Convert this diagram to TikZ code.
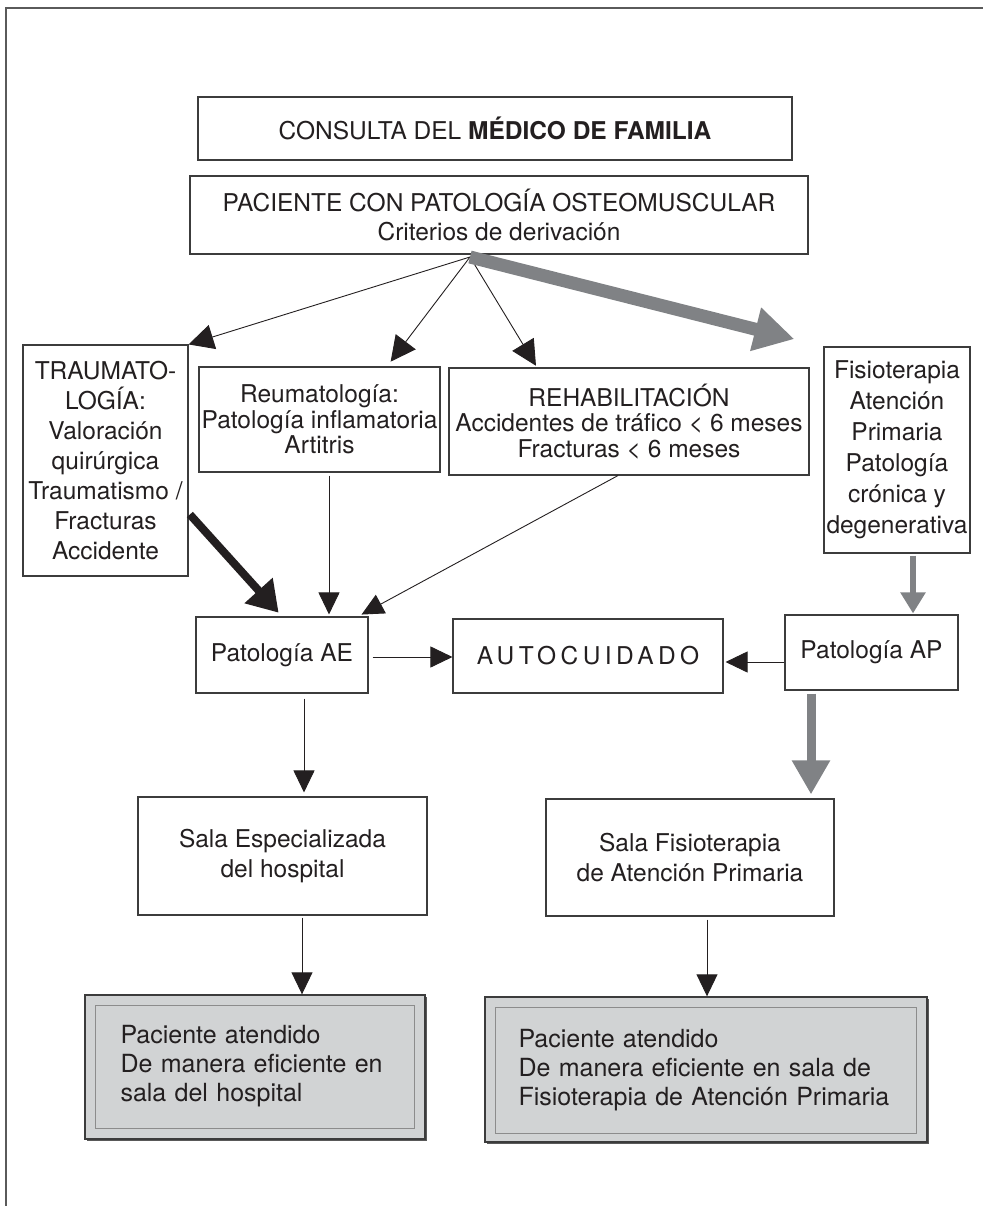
\documentclass[tikz,border=0pt]{standalone}
\usepackage{fontspec}
\setmainfont{TeX Gyre Heros}
\usetikzlibrary{arrows.meta,shadows}

\definecolor{ink}{HTML}{231F20}
\definecolor{edgegray}{HTML}{3C3C3C}
\definecolor{flowgray}{HTML}{808285}
\definecolor{panelgray}{HTML}{D1D3D4}
\definecolor{framegray}{HTML}{5A5A5A}

\tikzset{
  box/.style={rectangle, draw=edgegray, line width=1.1pt, inner sep=0pt, align=center, text=ink,
    font=\fontsize{24.5}{30}\selectfont},
  tightbox/.style={box, font=\fontsize{24.5}{25.5}\selectfont},
  panel/.style={rectangle, fill=panelgray, draw=edgegray, line width=1.4pt, inner sep=0pt,
    drop shadow={shadow xshift=1.5pt, shadow yshift=-1.5pt, fill=black!65, opacity=1}},
  panelframe/.style={rectangle, draw=black!45, line width=0.8pt, inner sep=0pt, align=left, text=ink,
    font=\fontsize{25}{29}\selectfont},
  link/.style={draw=ink, line width=0.9pt, -{Triangle[length=22pt,width=21pt]}},
  biglink/.style={draw=ink, line width=0.9pt, -{Triangle[length=25pt,width=25pt]}},
  boldlink/.style={draw=ink, line width=8pt, -{Triangle[length=30pt,width=36pt]}},
  greylink/.style={draw=flowgray, line width=6pt, -{Triangle[length=21pt,width=24pt]}},
  wideflow/.style={draw=flowgray, line width=9pt, -{Triangle[length=34pt,width=36pt]}},
  mainflow/.style={draw=flowgray, line width=13pt, -{Triangle[length=40pt,width=42pt]}},
}

\begin{document}
\begin{tikzpicture}[x=1pt,y=-1pt]
  \useasboundingbox (0,0) rectangle (983,1206);
  \draw[framegray, line width=1.5pt] (6,1206) -- (6,8) -- (983,8);

  % Nodes
  \node (consulta) at (495,128.5) [box, minimum width=594pt, minimum height=63pt]
    {CONSULTA DEL {\bfseries MÉDICO DE FAMILIA}};
  \node (paciente) at (499,215) [box, minimum width=618pt, minimum height=78pt,
    font=\fontsize{24.5}{29}\selectfont]
    {PACIENTE CON PATOLOGÍA OSTEOMUSCULAR\\Criterios de derivación};
  \node (trauma) at (105.5,460.5) [box, minimum width=165pt, minimum height=231pt]
    {TRAUMATO-\\LOGÍA:\\Valoración\\quirúrgica\\Traumatismo /\\Fracturas\\Accidente};
  \node (reuma) at (319.5,419.5) [tightbox, minimum width=241pt, minimum height=105pt]
    {Reumatología:\\Patología inflamatoria\\Artitris};
  \node (rehab) at (629,421.5) [tightbox, minimum width=360pt, minimum height=107pt]
    {REHABILITACIÓN\\Accidentes de tráfico < 6 meses\\Fracturas < 6 meses};
  \node (fisio) at (897,450) [box, minimum width=146pt, minimum height=206pt,
    font=\fontsize{24.5}{31}\selectfont]
    {Fisioterapia\\Atención\\Primaria\\Patología\\crónica y\\degenerativa};
  \node (ae) at (282,655) [box, minimum width=172pt, minimum height=76pt] {Patología AE};
  \node (auto) at (588,656) [box, minimum width=270pt, minimum height=74pt]
    {\addfontfeature{LetterSpace=18}AUTOCUIDADO};
  \node (ap) at (871.5,652.5) [box, minimum width=173pt, minimum height=75pt] {Patología AP};
  \node (salaE) at (282.5,856) [box, minimum width=289pt, minimum height=118pt]
    {Sala Especializada\\del hospital};
  \node (salaF) at (690,857.5) [box, minimum width=288pt, minimum height=117pt]
    {Sala Fisioterapia\\de Atención Primaria};

  \node (panelL) at (255,1067) [panel, minimum width=340pt, minimum height=144pt] {};
  \node (frameL) at (254.5,1066.5) [panelframe, minimum width=319pt, minimum height=123pt,
    text width=268pt]
    {Paciente atendido\\\makebox[\linewidth][s]{De manera eficiente en}\\sala del hospital};
  \node (panelR) at (706,1069.5) [panel, minimum width=442pt, minimum height=145pt] {};
  \node (frameR) at (705.5,1070) [panelframe, minimum width=421pt, minimum height=126pt,
    text width=374pt]
    {Paciente atendido\\\makebox[\linewidth][s]{De manera eficiente en sala de}\\
     \makebox[\linewidth][s]{Fisioterapia de Atención Primaria}};

  % Edges
  \coordinate (split) at (470,257);
  \draw[biglink] (split) -- (trauma.north east);
  \draw[biglink, shorten >=6pt] (split) -- (reuma.north -| 387,0);
  \draw[biglink, shorten >=2pt] (split) -- (rehab.north -| 537,0);
  \draw[mainflow, shorten >=30pt] (split) -- (fisio.north west);

  \draw[boldlink, shorten <=2pt, shorten >=5pt] (trauma.east |- 0,513) -- (ae.north);
  \draw[link, shorten <=3pt, shorten >=2pt] (reuma.south -| 329,0) -- (ae.north -| 329,0);
  \draw[link, shorten >=4pt] (rehab.south -| 618,0) -- (ae.north -| 358,0);
  \draw[link, shorten <=4pt] (ae.east |- 0,657) -- (auto.west |- 0,657);
  \draw[link, shorten >=2pt] (ap.west |- 0,662) -- (auto.east |- 0,662);
  \draw[greylink, shorten <=2pt, shorten >=1pt] (fisio.south -| 913,0) -- (ap.north -| 913,0);

  \draw[wideflow, shorten <=3pt, shorten >=4pt] (ap.south -| 811,0) -- (salaF.north -| 811,0);
  \draw[link, shorten <=5pt, shorten >=4pt] (ae.south -| 304,0) -- (salaE.north -| 304,0);
  \draw[link, shorten <=2pt] (salaE.south -| 302,0) -- (panelL.north -| 302,0);
  \draw[link, shorten <=3pt] (salaF.south -| 707,0) -- (panelR.north -| 707,0);
\end{tikzpicture}
\end{document}
